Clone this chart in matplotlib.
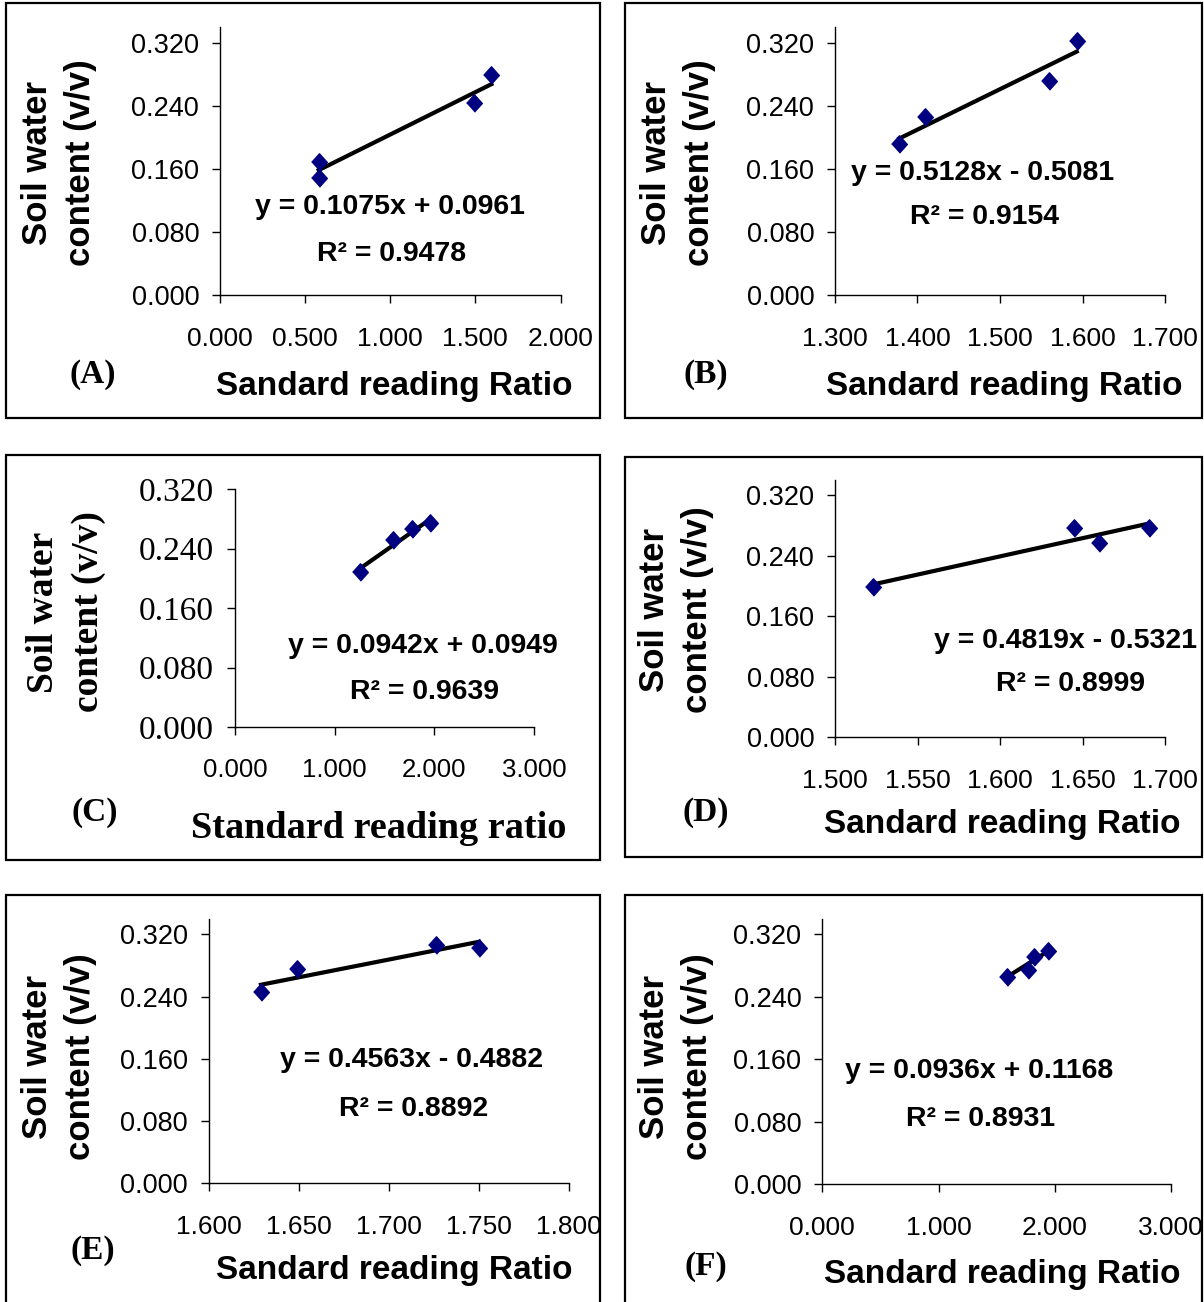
import numpy as np
import matplotlib.pyplot as plt
from matplotlib.patches import Rectangle

plt.rcParams['font.family'] = ['Liberation Sans', 'DejaVu Sans']

# ---- data ----
panels = ['A', 'B', 'C', 'D', 'E', 'F']

x_a = [0.580, 0.580, 1.494, 1.594]
y_a = [0.169, 0.149, 0.243, 0.279]
x_b = [1.378, 1.409, 1.559, 1.593]
y_b = [0.192, 0.226, 0.271, 0.322]
x_c = [1.257, 1.590, 1.772, 1.958]
y_c = [0.209, 0.251, 0.266, 0.274]
x_d = [1.523, 1.645, 1.660, 1.690]
y_d = [0.199, 0.277, 0.257, 0.277]
x_e = [1.629, 1.649, 1.726, 1.750]
y_e = [0.246, 0.275, 0.306, 0.302]
x_f = [1.585, 1.771, 1.821, 1.944]
y_f = [0.266, 0.274, 0.291, 0.299]

slopes = [0.1075, 0.5128, 0.0942, 0.4819, 0.4563, 0.0936]
intercepts = [0.0961, -0.5081, 0.0949, -0.5321, -0.4882, 0.1168]
r2 = [0.9478, 0.9154, 0.9639, 0.8999, 0.8892, 0.8931]

x_limits = [(0, 2), (1.3, 1.7), (0, 3), (1.5, 1.7), (1.6, 1.8), (0, 3)]
x_steps = [0.5, 0.1, 1.0, 0.05, 0.05, 1.0]
y_ticks = [0.0, 0.08, 0.16, 0.24, 0.32]

xs = [x_a, x_b, x_c, x_d, x_e, x_f]
ys = [y_a, y_b, y_c, y_d, y_e, y_f]

# ---- layout in pixels ----
W, H = 1204, 1302
fig = plt.figure(figsize=(W / 100, H / 100), dpi=100)

def fx(px):
    return px / W

def fy(py):
    return 1 - py / H

# outer boxes (left, top, right, bottom)
boxes = [(6, 3, 600, 418), (625, 3, 1202, 418),
         (6, 455, 600, 860), (625, 457, 1202, 857),
         (6, 895, 600, 1310), (625, 895, 1202, 1310)]
# axes: (left, top, right, bottom)
axes_px = [(220, 27, 560.5, 295), (835, 27, 1165, 295),
           (235, 489, 534, 727), (835, 480, 1165, 737),
           (208.7, 918.7, 569, 1183.3), (822.3, 918.7, 1171.3, 1184.3)]
y_top = [0.34, 0.34, 0.32, 0.34, 0.34, 0.34]
eq_pos = [(390, 207), (983, 173), (423, 646), (1066, 641), (412, 1060), (979, 1071)]
r2_pos = [(392, 254), (985, 217), (425, 692), (1070, 684), (414, 1109), (981, 1119)]
tag_pos = [(93, 374), (706, 374), (95, 812), (706, 812), (93, 1251), (706, 1266)]
xlab_pos = [(394, 387), (1004, 387), (379, 828), (1002, 825), (394, 1270), (1002, 1275)]
ylab_pos = [(59, 163), (678, 163), (66, 612), (676, 610), (59, 1057), (676, 1057)]

diamond = [(-0.9, 0), (0, 1), (0.9, 0), (0, -1)]

for i, p in enumerate(panels):
    serif = (p == 'C')
    l, t, r, b = boxes[i]
    fig.add_artist(Rectangle((fx(l), fy(b)), fx(r - l), (b - t) / H,
                             transform=fig.transFigure, fill=False,
                             edgecolor='black', linewidth=1.6))

    al, at, ar, ab = axes_px[i]
    ax = fig.add_axes([fx(al), fy(ab), fx(ar - al), (ab - at) / H])
    x = np.array(xs[i])
    ax.scatter(x, ys[i], marker=diamond, s=12.5 ** 2, color='#000080', zorder=3)
    xl = np.array([x.min(), x.max()])
    ax.plot(xl, slopes[i] * xl + intercepts[i], color='black', linewidth=3, zorder=2)

    ax.set_xlim(*x_limits[i])
    ax.set_ylim(0, y_top[i])
    lo, hi = x_limits[i]
    ax.set_xticks(np.round(np.arange(lo, hi + 1e-9, x_steps[i]), 3))
    ax.set_yticks(y_ticks)
    ax.set_xticklabels([f'{v:.3f}' for v in ax.get_xticks()])
    ax.set_yticklabels([f'{v:.3f}' for v in y_ticks])
    for s in ['top', 'right']:
        ax.spines[s].set_visible(False)
    for s in ['left', 'bottom']:
        ax.spines[s].set_linewidth(1)
    ax.tick_params(axis='both', direction='out', length=6, width=1)
    ax.tick_params(axis='y', pad=9)
    ax.tick_params(axis='x', pad=17 if not serif else 16)
    for lab in ax.get_xticklabels():
        lab.set_fontsize(19 if not serif else 18.5)
    for lab in ax.get_yticklabels():
        if serif:
            lab.set_fontfamily('Liberation Serif')
            lab.set_fontsize(24)
        else:
            lab.set_fontsize(19.5)

    sign = '+' if intercepts[i] >= 0 else '-'
    eq = f'y = {slopes[i]:.4f}x {sign} {abs(intercepts[i]):.4f}'
    fig.text(fx(eq_pos[i][0]), fy(eq_pos[i][1]), eq, ha='center', va='center',
             fontsize=20.5, fontweight='bold')
    fig.text(fx(r2_pos[i][0]), fy(r2_pos[i][1]), f'R\u00b2 = {r2[i]:.4f}',
             ha='center', va='center', fontsize=20.5, fontweight='bold')
    fig.text(fx(tag_pos[i][0]), fy(tag_pos[i][1]), f'({p})', ha='center', va='center',
             fontsize=24, fontweight='bold', family='Liberation Serif')
    if serif:
        fig.text(fx(xlab_pos[i][0]), fy(xlab_pos[i][1]), 'Standard reading ratio',
                 ha='center', va='center', fontsize=27.5, fontweight='bold',
                 family='Liberation Serif')
        fig.text(fx(ylab_pos[i][0]), fy(ylab_pos[i][1]), 'Soil water\ncontent (v/v)',
                 ha='center', va='center', rotation=90, fontsize=27,
                 fontweight='bold', family='Liberation Serif', linespacing=1.4)
    else:
        fig.text(fx(xlab_pos[i][0]), fy(xlab_pos[i][1]), 'Sandard reading Ratio',
                 ha='center', va='center', fontsize=24, fontweight='bold')
        fig.text(fx(ylab_pos[i][0]), fy(ylab_pos[i][1]), 'Soil water\ncontent (v/v)',
                 ha='center', va='center', rotation=90, fontsize=25,
                 fontweight='bold', linespacing=1.4)

fig.savefig('out.png', dpi=100)
